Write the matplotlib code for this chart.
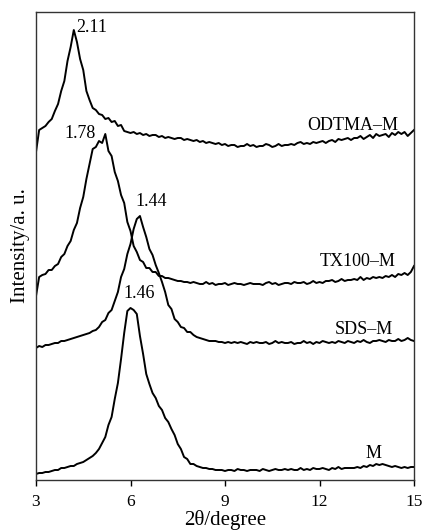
import numpy as np
import matplotlib
matplotlib.use('Agg')
import matplotlib.pyplot as plt

# DATA - XRD patterns, 2theta from 3 to 15 deg in 0.1 steps
two_theta = np.round(np.arange(30, 151) / 10.0, 1)

# intensities (a.u., stacked with offsets already included)
odtma_m = [328, 350, 352, 354, 358, 361, 369, 376, 389, 399,
           419, 433, 450, 438, 421, 410, 389, 380, 372, 370,
           366, 365, 361, 362, 358, 359, 354, 355, 349, 348,
           347, 348, 346, 347, 345, 346, 344, 345, 345, 343,
           344, 342, 343, 342, 341, 342, 342, 340, 341, 340,
           339, 340, 338, 339, 337, 338, 337, 336, 337, 335,
           336, 334, 335, 335, 333, 334, 334, 336, 334, 335,
           333, 334, 334, 336, 335, 333, 334, 336, 334, 335,
           335, 336, 335, 337, 338, 336, 337, 336, 338, 337,
           338, 339, 337, 339, 340, 338, 341, 340, 341, 342,
           340, 342, 342, 344, 341, 343, 345, 342, 346, 344,
           345, 346, 343, 347, 345, 348, 346, 348, 344, 347,
           350]

tx100_m = [184, 203, 205, 206, 210, 210, 214, 216, 223, 226,
           234, 239, 250, 257, 272, 283, 301, 316, 331, 333,
           339, 337, 346, 329, 324, 308, 299, 285, 277, 258,
           249, 234, 228, 220, 218, 212, 212, 208, 208, 204,
           204, 202, 202, 201, 200, 199, 199, 198, 198, 197,
           198, 197, 196, 196, 198, 196, 197, 195, 196, 196,
           197, 195, 196, 197, 196, 196, 195, 196, 197, 196,
           196, 196, 195, 197, 198, 196, 197, 195, 196, 197,
           197, 196, 198, 197, 197, 198, 196, 197, 199, 197,
           198, 197, 199, 199, 200, 198, 199, 201, 199, 200,
           200, 201, 200, 203, 200, 202, 201, 203, 202, 203,
           202, 204, 203, 205, 203, 206, 205, 207, 205, 208,
           214]

sds_m = [132, 134, 133, 135, 135, 136, 137, 137, 139, 139,
         140, 141, 142, 143, 144, 145, 146, 147, 149, 150,
         153, 158, 160, 167, 170, 179, 188, 203, 211, 226,
         236, 251, 261, 264, 253, 243, 231, 225, 215, 207,
         198, 188, 175, 171, 161, 158, 153, 152, 148, 148,
         145, 143, 142, 141, 140, 139, 139, 139, 138, 138,
         137, 138, 137, 138, 137, 138, 137, 136, 138, 137,
         138, 137, 137, 138, 136, 137, 139, 137, 138, 137,
         137, 138, 136, 137, 137, 139, 137, 138, 136, 138,
         137, 139, 138, 137, 138, 137, 139, 138, 137, 139,
         138, 137, 139, 138, 140, 138, 137, 139, 139, 140,
         139, 138, 140, 139, 139, 141, 139, 140, 142, 140,
         139]

m = [6, 7, 7, 8, 8, 9, 10, 10, 12, 12,
     13, 14, 14, 16, 17, 18, 20, 22, 24, 27,
     31, 37, 43, 55, 63, 81, 97, 121, 147, 169,
     172, 170, 166, 144, 126, 106, 96, 87, 82, 74,
     70, 62, 58, 51, 45, 36, 31, 23, 21, 16,
     16, 14, 13, 12, 12, 11, 11, 10, 10, 10,
     9, 10, 10, 9, 11, 10, 10, 9, 10, 10,
     10, 9, 11, 10, 9, 10, 11, 10, 10, 11,
     10, 11, 10, 10, 12, 10, 11, 10, 12, 11,
     11, 12, 11, 10, 12, 11, 13, 11, 12, 12,
     12, 12, 13, 12, 14, 13, 15, 14, 16, 15,
     16, 15, 14, 13, 14, 13, 12, 13, 12, 13,
     13]

series_names = ['ODTMA\u2013M', 'TX100\u2013M', 'SDS\u2013M', 'M']
d_spacings = ['2.11', '1.78', '1.44', '1.46']

# PLOT
plt.rcParams['font.family'] = ['Liberation Serif', 'DejaVu Serif']

fig = plt.figure(figsize=(4.22, 5.32), dpi=100)
ax = fig.add_axes([36/422, 52/532, 378/422, 468/532])

for y in [odtma_m, tx100_m, sds_m, m]:
    ax.plot(two_theta, y, color='black', lw=1.4)

# peak labels (d-spacing, nm)
ax.text(4.29, 452, d_spacings[0], fontsize=13, ha='left', va='center')
ax.text(4.39, 347, d_spacings[1], fontsize=13, ha='center', va='center')
ax.text(6.66, 278, d_spacings[2], fontsize=13, ha='center', va='center')
ax.text(6.28, 186, d_spacings[3], fontsize=13, ha='center', va='center')

# sample names
ax.text(14.49, 355, series_names[0], fontsize=13, ha='right', va='center')
ax.text(14.43, 219, series_names[1], fontsize=13, ha='right', va='center')
ax.text(14.34, 151, series_names[2], fontsize=13, ha='right', va='center')
ax.text(13.96, 26, series_names[3], fontsize=13, ha='right', va='center')

ax.set_xlim(3, 15)
ax.set_ylim(0, 468)
ax.set_xticks([3, 6, 9, 12, 15])
ax.set_yticks([])
ax.tick_params(axis='x', direction='out', length=4, width=1, labelsize=12.5, pad=6)
for s in ax.spines.values():
    s.set_linewidth(1)
    s.set_color('#333333')

ax.set_xlabel('2\u03b8/degree', fontsize=15, labelpad=0)
ax.set_ylabel('Intensity/a. u.', fontsize=15, labelpad=4)

fig.savefig('out.png', dpi=100)
